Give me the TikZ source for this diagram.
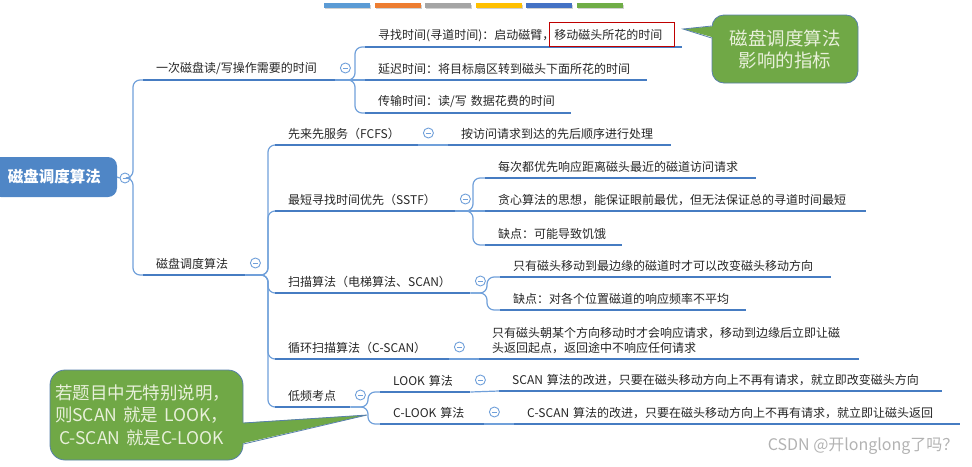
\documentclass[tikz,border=0pt]{standalone}
\usepackage{fontspec}
\setmainfont{Noto Sans CJK SC}
\definecolor{lineblue}{RGB}{70,124,194}
\definecolor{linkblue}{RGB}{112,160,218}
\definecolor{rootblue}{RGB}{79,134,198}
\definecolor{hintgreen}{RGB}{112,168,70}
\definecolor{hintedge}{RGB}{88,128,170}
\definecolor{hinttext}{RGB}{232,240,218}
\definecolor{barblue}{HTML}{5B9BD5}
\definecolor{barorange}{HTML}{ED7D31}
\definecolor{bargray}{HTML}{A5A5A5}
\definecolor{baryellow}{HTML}{FFC000}
\definecolor{bardark}{HTML}{4472C4}
\definecolor{bargreen}{HTML}{70AD47}
\tikzset{
 topic/.style={anchor=south west, inner xsep=13pt, inner ysep=5pt, align=left,
   font=\fontsize{12}{15}\selectfont, text=black!85},
 uline/.style={draw=lineblue, line width=2.8pt},
 link/.style={draw=linkblue, line width=1.2pt, rounded corners=7pt},
 fold/.style={circle, draw=linkblue, fill=white, line width=0.9pt, minimum size=10pt, inner sep=0pt,
   path picture={\draw[linkblue,line width=0.9pt] ([xshift=-2.5pt]path picture bounding box.center) -- ([xshift=2.5pt]path picture bounding box.center);}},
 hint/.style={fill=hintgreen, draw=hintedge, line width=0.8pt, rounded corners=12pt, text=hinttext}
}
\begin{document}
\begin{tikzpicture}[x=1pt,y=-1pt]
\useasboundingbox (0,0) rectangle (972,466);

% colour bars on top
\foreach \c [count=\i from 0] in {barblue,barorange,bargray,baryellow,bardark,bargreen}
{\fill[black!18] ({324+50.6*\i+1},4.5) rectangle ++(46,4.5);
 \fill[\c] ({324+50.6*\i},3) rectangle ++(46,4.5);}

% root
\node[fill=rootblue, rounded corners=9pt, minimum width=125pt, minimum height=40pt, text=white,
  font=\fontsize{15.5}{18}\selectfont\bfseries] (root) at (54.5,177) {磁盘调度算法};
\node[fold] (c-root) at (125,178) {};

% first level
\node[topic, text width=166] (b1) at (143,80) {一次磁盘读/写操作需要的时间};
\node[topic, text width=76] (b2) at (143,275) {磁盘调度算法};

\node[topic, text width=291] (t1) at (365,47) {寻找时间(寻道时间)：启动磁臂，移动磁头所花的时间};
\node[topic, text width=256] (t2) at (365,80) {延迟时间：将目标扇区转到磁头下面所花的时间};
\node[topic, text width=180] (t3) at (365,113) {传输时间：读/写~数据花费的时间};

% algorithms
\node[topic, text width=117] (fcfs) at (275,145) {先来先服务（FCFS）};
\node[topic, text width=197] (fcfs1) at (448,145) {按访问请求到达的先后顺序进行处理};
\node[topic, text width=154] (sstf) at (275,211) {最短寻找时间优先（SSTF）};
\node[topic, text width=245] (sstf1) at (485,178) {每次都优先响应距离磁头最近的磁道访问请求};
\node[topic, text width=355] (sstf2) at (485,211) {贪心算法的思想，能保证眼前最优，但无法保证总的寻道时间最短};
\node[topic, text width=111] (sstf3) at (485,245) {缺点：可能导致饥饿};
\node[topic, text width=169] (scan) at (275,293) {扫描算法（电梯算法、SCAN）};
\node[topic, text width=305] (scan1) at (500,277) {只有磁头移动到最边缘的磁道时才可以改变磁头移动方向};
\node[topic, text width=220] (scan2) at (500,310) {缺点：对各个位置磁道的响应频率不平均};
\node[topic, text width=148] (cscan) at (275,359) {循环扫描算法（C-SCAN）};
\node[topic, text width=354] (cscan1) at (479,359) {只有磁头朝某个方向移动时才会响应请求，移动到边缘后立即让磁\\头返回起点，返回途中不响应任何请求};
\node[topic, text width=49] (low) at (275,407) {低频考点};
\node[topic, text width=64] (look) at (380,392) {LOOK~算法};
\node[topic, text width=417] (look1) at (499,391) {SCAN~算法的改进，只要在磁头移动方向上不再有请求，就立即改变磁头方向};
\node[topic, text width=78] (clook) at (380,424) {C-LOOK~算法};
\node[topic, text width=420] (clook1) at (514,424) {C-SCAN~算法的改进，只要在磁头移动方向上不再有请求，就立即让磁头返回};

% connectors
\draw[link] (root.east) -- (c-root.west);
\foreach \c in {b1,b2}
\draw[link] (c-root.east) -| ([xshift=-10]\c.south west) -- (\c.south west);
\foreach \p/\c/\s in {b1/t1/10, b1/t3/10, b2/fcfs/7, b2/sstf/7, b2/scan/7, b2/cscan/7, b2/low/7,
  sstf/sstf1/12, sstf/sstf3/12, scan/scan1/13, scan/scan2/13, low/look/12, low/clook/12}
\draw[link] (\p.south east) -| ([xshift=-\s]\c.south west) -- (\c.south west);
\foreach \p/\c in {b1/t2, fcfs/fcfs1, sstf/sstf2, cscan/cscan1, look/look1, clook/clook1}
\draw[link] (\p.south east) -- (\c.south west);

% underlines and fold markers
\foreach \n in {b1,t1,t2,t3,b2,fcfs,fcfs1,sstf,sstf1,sstf2,sstf3,scan,scan1,scan2,cscan,cscan1,low,look,look1,clook,clook1}
\draw[uline] (\n.south west) -- (\n.south east);
\foreach \n in {b1,b2,fcfs,sstf,scan,cscan,low,look,clook}
\node[fold] (c-\n) at ([xshift=10,yshift=12]\n.south east) {};

\draw[red!75!black, line width=1pt] (549,22) rectangle (674,46);

% callouts
\node[hint, minimum width=146pt, minimum height=68pt, align=center,
  font=\fontsize{18.5}{22}\selectfont] (hint1) at (785,49) {磁盘调度算法\\影响的指标};
\coordinate (tip1) at (683,29);
\fill[hintgreen] (tip1) -- ([xshift=4,yshift=23]hint1.west) -- ([xshift=4,yshift=11]hint1.west) -- cycle;
\draw[hintedge, line width=0.8pt] ([yshift=23]hint1.west) -- (tip1) -- ([yshift=11]hint1.west);

\node[hint, text width=183pt, inner xsep=5pt, minimum height=90pt, align=left, rounded corners=15pt,
  font=\fontsize{17.5}{22.5}\selectfont] (hint2) at (146.5,415)
  {若题目中无特别说明，\\则SCAN 就是 LOOK，\\\hspace*{4pt}C-SCAN 就是C-LOOK};
\coordinate (tip2) at (367,415);
\fill[hintgreen] (tip2) -- ([xshift=-4,yshift=-8]hint2.east) -- ([xshift=-4,yshift=-29]hint2.east) -- cycle;
\draw[hintedge, line width=0.8pt] ([yshift=-8]hint2.east) -- (tip2) -- ([yshift=-29]hint2.east);

\node[anchor=east, text=black!30, font=\fontsize{16}{18}\selectfont] (mark) at (962,446) {CSDN @开longlong了吗？};
\end{tikzpicture}
\end{document}
